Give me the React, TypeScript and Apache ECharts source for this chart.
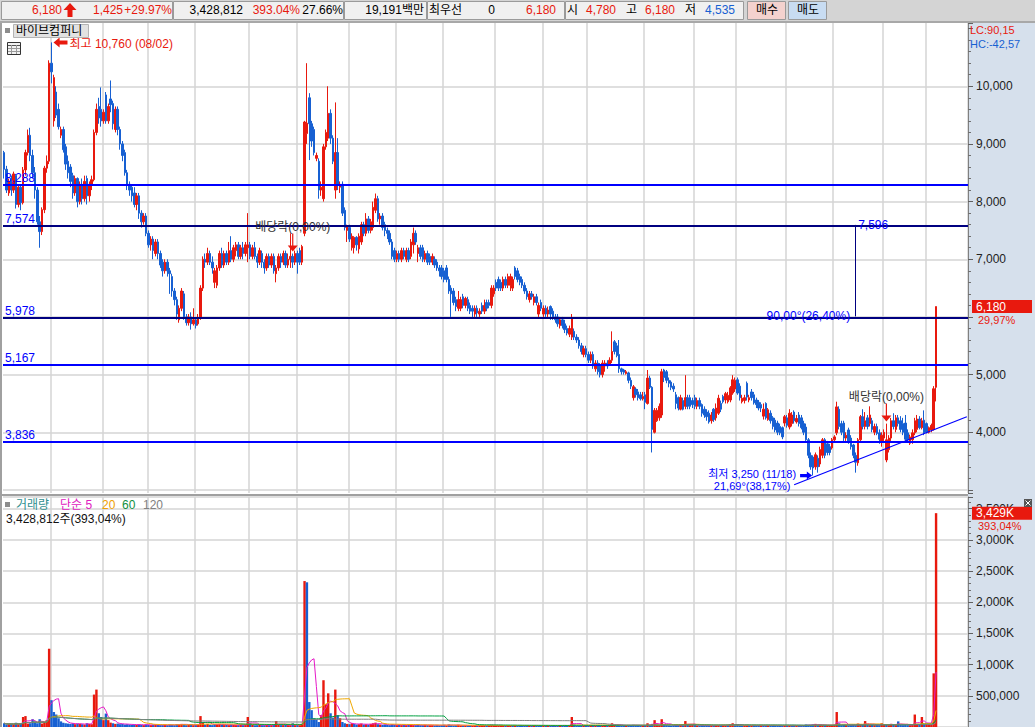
import React, { useEffect, useRef } from 'react';
import * as echarts from 'echarts';

const RED = '#e8190e';
const BLUE = '#1760d2';
const LINE_BLUE = '#0000ff';
const NAVY = '#000080';
const GRID_GRAY = '#d4d4d4';
const FONT = '"Liberation Sans", "Noto Sans CJK KR", sans-serif';

// daily candles: [open, close, low, high]
const candles: number[][] = [
  /*0*/ [8850, 8560, 8400, 8880], [8560, 8200, 8150, 8620], [8150, 8350, 8100, 8400], [8380, 8200, 8100, 8450], [8200, 8480, 8150, 8520],
  /*5*/ [8450, 7950, 7880, 8480], [7950, 8250, 7900, 8300], [8250, 7980, 7850, 8300], [7980, 8550, 7950, 8600], [8550, 8850, 8450, 8900],
  /*10*/ [8850, 9150, 8800, 9250], [9150, 8800, 8700, 9280], [8800, 8500, 8400, 8900], [8500, 8200, 8050, 8600], [8200, 7650, 7600, 8250],
  /*15*/ [7650, 7480, 7200, 7750], [7480, 7860, 7420, 7900], [7860, 8580, 7800, 8620], [8580, 8700, 8500, 8800], [8700, 10400, 8650, 10450],
  /*20*/ [10400, 10250, 10050, 10760], [9400, 10150, 9300, 10200], [9900, 9500, 9450, 10000], [9600, 9300, 9250, 9700], [9150, 9250, 9100, 9300],
  /*25*/ [9250, 8900, 8850, 9300], [8950, 8650, 8550, 9000], [8700, 8500, 8400, 8800], [8600, 8350, 8250, 8650], [8450, 8150, 8050, 8500],
  /*30*/ [8150, 8400, 8100, 8450], [8400, 8000, 7900, 8420], [8000, 8300, 7950, 8350], [8300, 8050, 7950, 8400], [8050, 8350, 8000, 8450],
  /*35*/ [8400, 8100, 7950, 8450], [8100, 8300, 8000, 8350], [8280, 8380, 8200, 8450], [8380, 9200, 8350, 9250], [9200, 9600, 9150, 9700],
  /*40*/ [9650, 9450, 9350, 9800], [9600, 9400, 9300, 9980], [9400, 9550, 9350, 9600], [9850, 9400, 9350, 9900], [9400, 9650, 9350, 9700],
  /*45*/ [9780, 9680, 9550, 10100], [9700, 9350, 9250, 9750], [9250, 9600, 9200, 9650], [9600, 9250, 9150, 9650], [9250, 9000, 8900, 9300],
  /*50*/ [9000, 8800, 8700, 9050], [8850, 8500, 8450, 8900], [8500, 8300, 8200, 8550], [8300, 8200, 8100, 8350], [8250, 8100, 8000, 8300],
  /*55*/ [8150, 7950, 7900, 8250], [7950, 8100, 7850, 8150], [8100, 7800, 7700, 8150], [7800, 7650, 7550, 7850], [7650, 7750, 7600, 7800],
  /*60*/ [7750, 7450, 7400, 7800], [7450, 7250, 7200, 7500], [7250, 7350, 7150, 7400], [7350, 7150, 7000, 7400], [7100, 7300, 7050, 7350],
  /*65*/ [7300, 7100, 7000, 7350], [7100, 6900, 6850, 7150], [6950, 6800, 6700, 7000], [6800, 6950, 6750, 7000], [6950, 6800, 6700, 7000],
  /*70*/ [6800, 6750, 6400, 6850], [6700, 6450, 6350, 6750], [6450, 6300, 6200, 6500], [6300, 6050, 5950, 6350], [5950, 6150, 5900, 6200],
  /*75*/ [6150, 6450, 6100, 6500], [6400, 6000, 5950, 6450], [6000, 5900, 5850, 6050], [5900, 6000, 5850, 6050], [6000, 5880, 5780, 6080],
  /*80*/ [5880, 5950, 5850, 6150], [5950, 5850, 5800, 6000], [5880, 5980, 5850, 6050], [5980, 6500, 5950, 6550], [6500, 7000, 6450, 7050],
  /*85*/ [7000, 6950, 6850, 7100], [6950, 7100, 6900, 7200], [7100, 6950, 6900, 7150], [6950, 6850, 6750, 7050], [6600, 6800, 6500, 6850],
  /*90*/ [6550, 6850, 6500, 6900], [6850, 7100, 6800, 7150], [7100, 6900, 6850, 7200], [6900, 7100, 6850, 7150], [7100, 6950, 6900, 7150],
  /*95*/ [6950, 7150, 6900, 7300], [7150, 7000, 6950, 7400], [7000, 7200, 6950, 7250], [7150, 7250, 7050, 7300], [7250, 7050, 7000, 7300],
  /*100*/ [7050, 7200, 7000, 7250], [7200, 7100, 7000, 7300], [7100, 7250, 7050, 7300], [7200, 7250, 6950, 7800], [7250, 7050, 7000, 7300],
  /*105*/ [7050, 7200, 7000, 7250], [7200, 7050, 7000, 7300], [7050, 6950, 6850, 7100], [6950, 7150, 6900, 7200], [7100, 6950, 6850, 7150],
  /*110*/ [6950, 6850, 6750, 7000], [6850, 7050, 6800, 7100], [7050, 6900, 6850, 7100], [6900, 7050, 6850, 7100], [7050, 6800, 6750, 7100],
  /*115*/ [6750, 6850, 6600, 6900], [6850, 7050, 6800, 7100], [7050, 6950, 6850, 7100], [6950, 7100, 6900, 7150], [7100, 6900, 6850, 7150],
  /*120*/ [6900, 7000, 6850, 7100], [7000, 7050, 6850, 7450], [7050, 6950, 6850, 7100], [6950, 7100, 6900, 7150], [7100, 6950, 6750, 7150],
  /*125*/ [7150, 6950, 6900, 7200], [6950, 7220, 6900, 7250], [7450, 9380, 7400, 9400], [9180, 9360, 9000, 10400], [9800, 9350, 8720, 9880],
  /*130*/ [9350, 9050, 8950, 9400], [9250, 8850, 8800, 9300], [8750, 8800, 8700, 8850], [8700, 8200, 8050, 8750], [8200, 8250, 8100, 8350],
  /*135*/ [8050, 8950, 8000, 9000], [8950, 9200, 8900, 9250], [9100, 9530, 9050, 10000], [9530, 9100, 9000, 9600], [9100, 8700, 8650, 9150],
  /*140*/ [8200, 8850, 8050, 9720], [8850, 8300, 8200, 9100], [8250, 8300, 8150, 8350], [8300, 7800, 7750, 8350], [7850, 7550, 7500, 7900],
  /*145*/ [7500, 7560, 7300, 7600], [7550, 7350, 7300, 7600], [7200, 7400, 7150, 7450], [7200, 7380, 7100, 7400], [7380, 7250, 7150, 7400],
  /*150*/ [7180, 7400, 7100, 7450], [7300, 7600, 7250, 7650], [7600, 7450, 7400, 7650], [7450, 7700, 7400, 7800], [7700, 7500, 7450, 7750],
  /*155*/ [7500, 7650, 7450, 7700], [7550, 7900, 7500, 8000], [7850, 8050, 7800, 8140], [8050, 7700, 7650, 8100], [7700, 7750, 7600, 7800],
  /*160*/ [7750, 7550, 7500, 7800], [7600, 7500, 7400, 7650], [7500, 7450, 7350, 7550], [7450, 7300, 7250, 7500], [7300, 7050, 7000, 7350],
  /*165*/ [7150, 7000, 6950, 7200], [7000, 7100, 6950, 7150], [7100, 7000, 6950, 7150], [7000, 7150, 6950, 7200], [7150, 7050, 7000, 7200],
  /*170*/ [7000, 7150, 6950, 7200], [7150, 7000, 6950, 7200], [7050, 7300, 7000, 7350], [7250, 7450, 7100, 7550], [7450, 7300, 7250, 7500],
  /*175*/ [7100, 7200, 6950, 7250], [7200, 7050, 7000, 7250], [7200, 7000, 6950, 7250], [7000, 7100, 6950, 7150], [7100, 6950, 6900, 7150],
  /*180*/ [7050, 6950, 6900, 7100], [6950, 7050, 6900, 7100], [7000, 6900, 6850, 7050], [6950, 6850, 6800, 7000], [6850, 6800, 6700, 6900],
  /*185*/ [6850, 6700, 6650, 6900], [6800, 6650, 6600, 6850], [6850, 6650, 6600, 6900], [6650, 6450, 6400, 6700], [6500, 6400, 6000, 6550],
  /*190*/ [6450, 6250, 6200, 6500], [6300, 6180, 6100, 6350], [6150, 6300, 6100, 6450], [6150, 6300, 6100, 6350], [6350, 6200, 6150, 6400],
  /*195*/ [6200, 6320, 6150, 6350], [6300, 6150, 6100, 6350], [6200, 6100, 6050, 6250], [6150, 6100, 6000, 6200], [6050, 6150, 6000, 6200],
  /*200*/ [6150, 6070, 6000, 6200], [6050, 6100, 6000, 6150], [6200, 6100, 6050, 6250], [6100, 6200, 6050, 6300], [6250, 6150, 6100, 6300],
  /*205*/ [6250, 6200, 6150, 6300], [6200, 6500, 6150, 6550], [6400, 6500, 6350, 6550], [6600, 6500, 6450, 6650], [6650, 6500, 6450, 6700],
  /*210*/ [6600, 6500, 6450, 6650], [6500, 6650, 6450, 6700], [6650, 6550, 6500, 6700], [6550, 6700, 6500, 6750], [6550, 6700, 6450, 6750],
  /*215*/ [6500, 6650, 6450, 6700], [6850, 6700, 6650, 6880], [6800, 6650, 6600, 6850], [6700, 6600, 6550, 6750], [6650, 6550, 6500, 6700],
  /*220*/ [6550, 6450, 6400, 6600], [6450, 6350, 6300, 6500], [6300, 6400, 6250, 6450], [6400, 6350, 6300, 6450], [6250, 6350, 6200, 6400],
  /*225*/ [6350, 6250, 6200, 6400], [6050, 6200, 6000, 6250], [6250, 6150, 6100, 6300], [6050, 6150, 6000, 6200], [6150, 6050, 6000, 6200],
  /*230*/ [6050, 6120, 6000, 6180], [6180, 6050, 5950, 6200], [6100, 5980, 5950, 6150], [6000, 5950, 5900, 6050], [6000, 5880, 5830, 6050],
  /*235*/ [5850, 5950, 5800, 6000], [5950, 5850, 5800, 6000], [5880, 5780, 5720, 5950], [5800, 5720, 5680, 5850], [5700, 5800, 5650, 5850],
  /*240*/ [5650, 5980, 5600, 6050], [5750, 5650, 5600, 5800], [5650, 5600, 5550, 5700], [5600, 5500, 5450, 5650], [5500, 5400, 5350, 5550],
  /*245*/ [5350, 5450, 5300, 5500], [5450, 5350, 5300, 5500], [5350, 5250, 5200, 5400], [5250, 5350, 5200, 5400], [5350, 5150, 5100, 5400],
  /*250*/ [5100, 5200, 5050, 5250], [5200, 5050, 5000, 5250], [5150, 5000, 4950, 5200], [5000, 5200, 4950, 5250], [5150, 5200, 5050, 5250],
  /*255*/ [5200, 5150, 5100, 5250], [5180, 5250, 5150, 5300], [5250, 5400, 5200, 5750], [5570, 5400, 5350, 5600], [5500, 5330, 5300, 5550],
  /*260*/ [5350, 5100, 5030, 5600], [5100, 5050, 5000, 5120], [5080, 5040, 5000, 5100], [5020, 5050, 5000, 5080], [5030, 4900, 4850, 5050],
  /*265*/ [4900, 4800, 4750, 4950], [4600, 4790, 4550, 4820], [4750, 4650, 4600, 4780], [4700, 4600, 4550, 4750], [4650, 4580, 4550, 4700],
  /*270*/ [4580, 4620, 4550, 4700], [4650, 4520, 4400, 4700], [4500, 4940, 4480, 5080], [4940, 4780, 4750, 4980], [4780, 4050, 3650, 4800],
  /*275*/ [4000, 4380, 3980, 4420], [4200, 4380, 4180, 4420], [4250, 4450, 4200, 4500], [4300, 5050, 4250, 5100], [5080, 4950, 4870, 5100],
  /*280*/ [5050, 4900, 4850, 5080], [4900, 4850, 4780, 4950], [4870, 4780, 4730, 4900], [4800, 4750, 4700, 4850], [4650, 4500, 4400, 4700],
  /*285*/ [4600, 4420, 4380, 4620], [4400, 4600, 4380, 4650], [4550, 4400, 4380, 4600], [4450, 4600, 4400, 4990], [4600, 4450, 4400, 4650],
  /*290*/ [4600, 4450, 4400, 4650], [4550, 4480, 4420, 4600], [4600, 4450, 4400, 4650], [4450, 4550, 4400, 4600], [4550, 4450, 4400, 4600],
  /*295*/ [4480, 4330, 4270, 4500], [4400, 4300, 4250, 4450], [4350, 4270, 4200, 4400], [4330, 4180, 4150, 4380], [4200, 4300, 4150, 4350],
  /*300*/ [4400, 4220, 4180, 4420], [4250, 4420, 4200, 4500], [4330, 4590, 4300, 4650], [4500, 4400, 4350, 4550], [4620, 4530, 4500, 4650],
  /*305*/ [4560, 4670, 4500, 4700], [4530, 4640, 4500, 4700], [4560, 4770, 4520, 4800], [4680, 4910, 4650, 4990], [4750, 4900, 4700, 4950],
  /*310*/ [4910, 4680, 4650, 4950], [4800, 4600, 4550, 4850], [4530, 4590, 4500, 4650], [4550, 4600, 4500, 4650], [4850, 4610, 4550, 4880],
  /*315*/ [4560, 4600, 4520, 4650], [4700, 4600, 4550, 4750], [4650, 4510, 4480, 4700], [4560, 4480, 4420, 4600], [4520, 4420, 4380, 4560],
  /*320*/ [4480, 4420, 4350, 4520], [4280, 4400, 4220, 4500], [4500, 4250, 4220, 4520], [4220, 4390, 4200, 4420], [4330, 4200, 4150, 4380],
  /*325*/ [4250, 4100, 4050, 4280], [4210, 4040, 4000, 4250], [4160, 4000, 3950, 4200], [4100, 3990, 3950, 4150], [4080, 3920, 3880, 4100],
  /*330*/ [4160, 4270, 4100, 4300], [4250, 4120, 4080, 4300], [4090, 4330, 4050, 4400], [4150, 4300, 4100, 4350], [4350, 4200, 4150, 4380],
  /*335*/ [4180, 4240, 4150, 4300], [4300, 4150, 4100, 4350], [4250, 4080, 4050, 4300], [4150, 4000, 3950, 4200], [4090, 3870, 3850, 4150],
  /*340*/ [3870, 3600, 3550, 3900], [3600, 3400, 3350, 3650], [3570, 3380, 3250, 3600], [3400, 3610, 3350, 3650], [3550, 3400, 3300, 3600],
  /*345*/ [3450, 3700, 3400, 3750], [3600, 3870, 3550, 3900], [3870, 3600, 3550, 3900], [3800, 3650, 3600, 3850], [3750, 3650, 3600, 3800],
  /*350*/ [3730, 3870, 3700, 3900], [3870, 3920, 3850, 3950], [3990, 4440, 3950, 4530], [4400, 4100, 4050, 4450], [4150, 4000, 3950, 4200],
  /*355*/ [4160, 3900, 3850, 4200], [3900, 3950, 3850, 4000], [4040, 3850, 3800, 4080], [3900, 3750, 3700, 3950], [3780, 3600, 3550, 3800],
  /*360*/ [3600, 3480, 3300, 3650], [3470, 3870, 3420, 3900], [3870, 4270, 3850, 4300], [4270, 4100, 4050, 4400], [4100, 4200, 4050, 4350],
  /*365*/ [4250, 4100, 4050, 4300], [4150, 4300, 4100, 4450], [4200, 4050, 4000, 4250], [4000, 4100, 3950, 4150], [4100, 3980, 3950, 4150],
  /*370*/ [3990, 3880, 3800, 4050], [3850, 3950, 3750, 4000], [3900, 4000, 3850, 4050], [3520, 3870, 3480, 4150], [3700, 3900, 3650, 3950],
  /*375*/ [3900, 4200, 3850, 4250], [4200, 4100, 4050, 4330], [4050, 4250, 4000, 4300], [4250, 4150, 4100, 4300], [4200, 4050, 4000, 4280],
  /*380*/ [4150, 4000, 3950, 4250], [4160, 3880, 3850, 4300], [3990, 3870, 3850, 4050], [3810, 3920, 3780, 3960], [3870, 3990, 3800, 4050],
  /*385*/ [3990, 4200, 3950, 4250], [4050, 4230, 4000, 4300], [4230, 4080, 4050, 4280], [4080, 4200, 4050, 4250], [4210, 3990, 3950, 4380],
  /*390*/ [4150, 4000, 3980, 4170], [4000, 4080, 3980, 4100], [4040, 4120, 4000, 4150], [4050, 4755, 4030, 4800], [4780, 6180, 4535, 6180],
];

// daily volume in thousands of shares
const volumesK: number[] = [
  /*0*/ 60, 40, 45, 50, 40, 70, 45, 50, 160, 175, 55, 60, 125, 90, 60, 125, 55, 80, 110, 1255,
  /*20*/ 430, 240, 200, 140, 90, 70, 60, 55, 50, 60, 45, 55, 50, 45, 40, 60, 50, 45, 520, 600,
  /*40*/ 220, 160, 110, 215, 110, 70, 60, 50, 55, 45, 50, 40, 45, 40, 35, 40, 35, 40, 35, 30,
  /*60*/ 40, 35, 30, 35, 40, 35, 30, 30, 35, 30, 40, 35, 30, 45, 40, 50, 45, 30, 35, 40, 30, 35, 40,
  /*83*/ 175, 80, 40, 50, 35, 30, 45, 40, 50, 35, 30, 35, 30, 40, 35, 30, 30, 35, 30, 40,
  /*103*/ 160, 60, 35, 30, 30, 35, 30, 30, 35, 30, 30, 35, 95, 40, 30, 30, 35, 30, 30, 60,
  /*123*/ 30, 35, 30, 50,
  /*127*/ 2340, 2320, 400, 270, 140, 120, 80, 190, 750, 365, 540, 220, 150, 600, 190, 140, 80, 60, 50,
  /*146*/ 45, 60, 50, 40, 45, 55, 40, 45, 40, 50, 60, 70, 45, 40, 35, 40, 35, 30, 45, 35,
  /*166*/ 30, 35, 30, 35, 30, 40, 35, 30, 30, 35, 30, 30, 35, 30, 30,
  /*181*/ 30, 25, 30, 25, 30, 35, 25, 40, 30, 25, 30, 35, 25, 20, 25, 20, 25, 20, 25, 20,
  /*201*/ 25, 30, 25, 20, 25, 35, 30, 25, 20, 25, 20, 25, 20, 25, 30, 25, 20, 25, 20, 25,
  /*221*/ 20, 25, 20, 25, 30, 20, 25, 20, 25, 20, 25, 20, 25, 20, 25, 30, 25, 20, 25, 160,
  /*241*/ 40, 25, 20, 25, 20, 25, 20, 25, 20, 25,
  /*251*/ 25, 20, 25, 20, 25, 30, 60, 35, 25, 30, 25, 20, 25, 30, 25, 35, 25, 20, 25, 20,
  /*271*/ 30, 60, 25, 50, 110, 35, 30, 125, 40, 30, 25, 20, 25, 30, 25, 35, 25, 95, 40, 30,
  /*291*/ 40, 35, 25, 20, 25, 20, 25, 20, 25, 20,
  /*301*/ 25, 30, 25, 30, 25, 30, 40, 60, 30, 40, 25, 20, 25, 30, 25, 20, 25, 20, 25, 20,
  /*321*/ 25, 20, 30, 25, 20, 25, 20, 25, 20, 25, 20, 25, 20, 25, 20, 25, 20, 25, 40, 35,
  /*341*/ 35, 40, 50, 30, 35, 30, 25, 30, 25, 30,
  /*351*/ 35, 240, 60, 30, 35, 30, 25, 30, 35, 30, 55, 40, 35, 95, 40, 30, 35, 30, 35, 30,
  /*371*/ 60, 35, 40, 30, 50, 45, 30, 90, 35, 30, 35, 30, 30, 35, 200, 45, 40, 160, 40, 40,
  /*391*/ 35, 40, 860, 3428.812,
];

const slotCount = 408;
const monthStartIdx = [20, 42, 61, 81, 104, 124, 146, 166, 186, 208, 228, 247, 271, 292, 310, 331, 351, 372, 390];
const priceGridValues = [3000, 4000, 5000, 6000, 7000, 8000, 9000, 10000];
const brightLevels = [8288, 5167, 3836];
const darkLevels = [7574, 5978];
const dividendIdx = [122, 373];
const highMark = [20, 10760];
const lowMark = [342, 3250];
const trendLine = [[334, 3090], [407, 4270]];
const rangeMark = { idx: 360, from: 6009, to: 7596 };
const maPeriods = [5, 20, 60, 120];
const maColors = ['#e619c8', '#f0a800', '#00a040', '#808080'];
const priceMin = 2947;
const priceMax = 11097;
const volMax = 3688000;

const fmt = (v: number) => Math.round(v).toLocaleString('en-US');

const volumes = volumesK.map((v) => Math.round(v * 1000));
const lastClose = candles[candles.length - 1][1];
const lastVolume = volumes[volumes.length - 1];

function movingAverage(arr: number[], n: number) {
  return arr.map((_, i) => {
    const s = Math.max(0, i - n + 1);
    let sum = 0;
    for (let j = s; j <= i; j++) sum += arr[j];
    return Math.round(sum / (i - s + 1));
  });
}

function levelSeries(name: string, values: number[], color: string, width: number) {
  return {
    type: 'line',
    name,
    xAxisIndex: 0,
    yAxisIndex: 0,
    data: [],
    silent: true,
    z: 5,
    markLine: {
      z: 5,
      silent: true,
      symbol: 'none',
      lineStyle: { color, width, type: 'solid', opacity: 1 },
      label: {
        show: true,
        position: 'insideStartTop',
        distance: [2, 1],
        color: LINE_BLUE,
        fontSize: 12,
        formatter: (p: any) => fmt(p.value),
      },
      data: values.map((v) => ({ yAxis: v })),
    },
  };
}

function buildOption(): any {
  const cats = Array.from({ length: slotCount }, (_, i) => String(i));
  const volData = volumes.map((v, i) => {
    const up = i === 0 ? candles[0][1] >= candles[0][0] : candles[i][1] >= candles[i - 1][1];
    return { value: v, itemStyle: { color: up ? RED : BLUE } };
  });
  const xAxisBase = {
    type: 'category',
    data: cats,
    boundaryGap: true,
    axisLine: { show: false },
    axisTick: { show: false },
    axisLabel: { show: false },
    splitLine: {
      show: true,
      interval: (index: number) => monthStartIdx.includes(index),
      lineStyle: { color: GRID_GRAY, width: 1.5 },
    },
  };
  const markLineData: any[] = [
    [
      {
        coord: trendLine[0],
        label: { show: true, position: 'start', distance: 4, formatter: '21,69°(38,17%)', color: LINE_BLUE, fontSize: 11 },
      },
      { coord: trendLine[1] },
    ],
  ];
  const invisible = { color: 'rgba(0,0,0,0)' };
  const markPointData: any[] = [
    {
      coord: highMark,
      symbol: 'path://M0,5L7,0L7,3L16,3L16,7L7,7L7,10Z',
      symbolSize: [14, 10],
      symbolOffset: [9, 0],
      itemStyle: { color: RED },
      label: { show: true, position: 'right', distance: 2, offset: [0, 1.5], formatter: '최고 10,760 (08/02)', color: RED, fontSize: 12 },
    },
    {
      coord: lowMark,
      symbol: 'path://M16,5L9,0L9,3L0,3L0,7L9,7L9,10Z',
      symbolSize: [12, 8],
      symbolOffset: [-7, 0],
      itemStyle: { color: LINE_BLUE },
      label: { show: true, position: 'left', distance: 4, offset: [0, -2], formatter: '최저 3,250 (11/18)', color: LINE_BLUE, fontSize: 11 },
    },
    ...dividendIdx.map((idx) => ({
      coord: [idx, candles[idx][3]],
      symbol: 'path://M4.4,0L5.6,0L5.6,12L10,12L5,18L0,12L4.4,12Z',
      symbolSize: [10, 18],
      symbolOffset: [0, -11],
      itemStyle: { color: RED },
      label: { show: true, position: 'top', distance: 1, formatter: '배당락(0,00%)', color: '#333333', fontSize: 12 },
    })),
    {
      coord: [rangeMark.idx, rangeMark.to],
      symbol: 'circle',
      symbolSize: 1,
      itemStyle: invisible,
      label: { show: true, position: 'right', distance: 2, formatter: fmt(rangeMark.to), color: LINE_BLUE, fontSize: 12 },
    },
    {
      coord: [rangeMark.idx, rangeMark.from],
      symbol: 'circle',
      symbolSize: 1,
      itemStyle: invisible,
      label: { show: true, position: 'left', distance: 5, formatter: '90,00°(26,40%)', color: LINE_BLUE, fontSize: 12 },
    },
  ];

  const maSeries = maPeriods.map((p, k) => ({
    type: 'line',
    name: 'MA' + p,
    xAxisIndex: 1,
    yAxisIndex: 1,
    data: movingAverage(volumes, p),
    symbol: 'none',
    showSymbol: false,
    lineStyle: { color: maColors[k], width: 1 },
    silent: true,
    z: 4,
  }));

  return {
    animation: false,
    textStyle: { fontFamily: FONT, fontSize: 12 },
    grid: [
      { left: 3, top: 23, width: 965, height: 470 },
      { left: 3, top: 497, width: 965, height: 232 },
    ],
    xAxis: [
      { ...xAxisBase, gridIndex: 0 },
      { ...xAxisBase, gridIndex: 1 },
    ],
    yAxis: [
      {
        type: 'value',
        gridIndex: 0,
        position: 'right',
        min: priceMin,
        max: priceMax,
        minInterval: 1000,
        maxInterval: 1000,
        axisLine: { show: true, lineStyle: { color: '#808080', width: 1 } },
        axisTick: { show: true, length: 5, lineStyle: { color: '#606060' } },
        minorTick: { show: true, splitNumber: 5, length: 3, lineStyle: { color: '#707070' } },
        axisLabel: {
          margin: 8,
          color: '#222222',
          fontSize: 12,
          // labels hidden behind the current-price box are not drawn
          formatter: (v: number) =>
            v >= 4000 && v <= 10000 && v % 1000 === 0 && Math.abs(v - lastClose) > 300 ? fmt(v) : '',
        },
        splitLine: { show: false },
      },
      {
        type: 'value',
        gridIndex: 1,
        position: 'right',
        min: 0,
        max: volMax,
        minInterval: 500000,
        maxInterval: 500000,
        axisLine: { show: true, lineStyle: { color: '#808080', width: 1 } },
        axisTick: { show: true, length: 5, lineStyle: { color: '#606060' } },
        minorTick: { show: true, splitNumber: 5, length: 3, lineStyle: { color: '#707070' } },
        axisLabel: {
          margin: 8,
          color: '#222222',
          fontSize: 12,
          formatter: (v: number) =>
            v > 0 && v % 500000 === 0 ? (v >= 1000000 ? fmt(v / 1000) + 'K' : fmt(v)) : '',
        },
        splitLine: { show: true, lineStyle: { color: GRID_GRAY, width: 1.5 } },
      },
    ],
    series: [
      {
        type: 'line',
        name: 'priceGrid',
        xAxisIndex: 0,
        yAxisIndex: 0,
        data: [],
        silent: true,
        z: 1,
        markLine: {
          z: 1,
          silent: true,
          symbol: 'none',
          label: { show: false },
          lineStyle: { color: GRID_GRAY, width: 1.5, type: 'solid' },
          data: priceGridValues.map((v) => ({ yAxis: v })),
        },
      },
      {
        type: 'candlestick',
        name: 'price',
        xAxisIndex: 0,
        yAxisIndex: 0,
        data: candles,
        barWidth: 2,
        z: 3,
        itemStyle: { color: RED, color0: BLUE, borderColor: RED, borderColor0: BLUE, borderWidth: 1 },
        markLine: {
          silent: true,
          symbol: 'none',
          z: 5,
          lineStyle: { color: LINE_BLUE, width: 1.2, type: 'solid' },
          data: markLineData,
        },
        markPoint: { silent: true, z: 6, data: markPointData },
      },
      levelSeries('levelsBright', brightLevels, LINE_BLUE, 2),
      levelSeries('levelsDark', darkLevels, NAVY, 2),
      {
        type: 'line',
        name: 'rangeLine',
        xAxisIndex: 0,
        yAxisIndex: 0,
        data: [],
        silent: true,
        z: 5,
        markLine: {
          z: 5,
          silent: true,
          symbol: 'none',
          label: { show: false },
          lineStyle: { color: NAVY, width: 1, type: 'solid' },
          data: [[{ coord: [rangeMark.idx, rangeMark.from] }, { coord: [rangeMark.idx, rangeMark.to] }]],
        },
      },
      {
        type: 'bar',
        name: 'volume',
        xAxisIndex: 1,
        yAxisIndex: 1,
        data: volData,
        barWidth: 2.4,
        z: 3,
      },
      ...maSeries,
    ],
  };
}

function txt(text: string, x: number, y: number, fill: string, align = 'left', size = 12) {
  return {
    type: 'text',
    z: 20,
    silent: true,
    style: {
      text,
      x,
      y,
      fill,
      font: `${size}px ${FONT}`,
      align,
      textAlign: align,
      verticalAlign: 'middle',
      textVerticalAlign: 'middle',
    },
  };
}

function rect(x: number, y: number, w: number, h: number, fill: string, stroke?: string, z = 15) {
  return {
    type: 'rect',
    z,
    silent: true,
    shape: { x, y, width: w, height: h },
    style: { fill, stroke: stroke || null, lineWidth: stroke ? 1 : 0 },
  };
}

function line(x1: number, y1: number, x2: number, y2: number, stroke: string, w = 1, z = 16) {
  return { type: 'line', z, silent: true, shape: { x1, y1, x2, y2 }, style: { stroke, lineWidth: w } };
}

function buildGraphics(yP: number, yV: number): any[] {
  const els: any[] = [];
  // right axis panel
  els.push(rect(968, 23, 67, 704, '#d6e0ec', undefined, -10));
  // toolbar
  els.push(rect(0, 0, 1035, 21, '#d4d4d4'));
  els.push(rect(1.5, 1.5, 171, 18, '#f0f0f0', '#9a9a9a'));
  els.push(rect(173.5, 1.5, 170, 18, '#f0f0f0', '#9a9a9a'));
  els.push(rect(344.5, 1.5, 82, 18, '#f0f0f0', '#9a9a9a'));
  els.push(rect(427.5, 1.5, 137, 18, '#f0f0f0', '#9a9a9a'));
  els.push(rect(565.5, 1.5, 178, 18, '#f0f0f0', '#9a9a9a'));
  els.push(rect(747.5, 1.5, 38, 18, '#f4d2ce', '#9a9a9a'));
  els.push(rect(788.5, 1.5, 38, 18, '#c8dcf2', '#9a9a9a'));
  els.push(rect(0, 21, 1035, 2, '#a8a8a8'));
  els.push(txt('6,180', 62, 10, RED, 'right'));
  els.push({
    type: 'polygon',
    z: 20,
    silent: true,
    shape: { points: [[70, 3], [76.5, 10], [72.5, 10], [72.5, 17], [67.5, 17], [67.5, 10], [63.5, 10]] },
    style: { fill: RED },
  });
  els.push(txt('1,425', 123, 10, RED, 'right'));
  els.push(txt('+29.97%', 172, 10, RED, 'right'));
  els.push(txt('3,428,812', 243, 10, '#000000', 'right'));
  els.push(txt('393.04%', 300, 10, RED, 'right'));
  els.push(txt('27.66%', 343, 10, '#000000', 'right'));
  els.push(txt('19,191백만', 424, 10, '#000000', 'right'));
  els.push(txt('최우선', 429, 10, '#000000', 'left'));
  els.push(txt('0', 495, 10, '#000000', 'right'));
  els.push(txt('6,180', 556, 10, RED, 'right'));
  els.push(txt('시', 567, 10, '#000000', 'left'));
  els.push(txt('4,780', 616, 10, RED, 'right'));
  els.push(txt('고', 626, 10, '#000000', 'left'));
  els.push(txt('6,180', 675, 10, RED, 'right'));
  els.push(txt('저', 685, 10, '#000000', 'left'));
  els.push(txt('4,535', 735, 10, BLUE, 'right'));
  els.push(txt('매수', 767, 10, '#000000', 'center'));
  els.push(txt('매도', 808, 10, '#000000', 'center'));
  // chart frame
  els.push(rect(0, 23, 2, 704, '#a0a0a0'));
  els.push(rect(0, 494, 968, 2, '#a0a0a0'));
  // title
  els.push(rect(5, 28, 5, 5, '#8c8c8c'));
  els.push(rect(13.5, 24.5, 75, 13, '#e2e2e2', '#b4b4b4'));
  els.push(txt('바이브컴퍼니', 16, 31, '#000000', 'left'));
  // small grid icon
  els.push(rect(7.5, 42.5, 13, 12, '#f2f2f2', '#333333'));
  els.push(line(8, 45.5, 20, 45.5, '#555555'));
  els.push(line(8, 48.5, 20, 48.5, '#999999'));
  els.push(line(8, 51.5, 20, 51.5, '#999999'));
  els.push(line(11.5, 45, 11.5, 54, '#999999'));
  els.push(line(16.5, 45, 16.5, 54, '#999999'));
  // LC / HC
  els.push(txt('LC:90,15', 970, 30, RED, 'left', 11));
  els.push(txt('HC:-42,57', 970, 43.5, BLUE, 'left', 11));
  // current price box
  els.push(rect(972, yP - 6.5, 60, 13, RED));
  els.push(txt(fmt(lastClose), 976, yP, '#ffffff', 'left'));
  els.push(txt('29,97%', 978, yP + 13, RED, 'left', 11));
  // volume legend
  els.push(rect(5, 502, 5, 5, '#8c8c8c'));
  els.push(txt('거래량', 16, 504.5, '#2f8f8f', 'left'));
  els.push(txt('단순 5', 60, 504.5, '#e020c0', 'left'));
  els.push(txt('20', 102, 504.5, '#f0a000', 'left'));
  els.push(txt('60', 122, 504.5, '#109040', 'left'));
  els.push(txt('120', 143, 504.5, '#808080', 'left'));
  els.push(txt('3,428,812주(393,04%)', 6, 519, '#111111', 'left'));
  // current volume box
  els.push(rect(972, yV - 6.5, 60, 13, RED));
  els.push(txt('3,429K', 976, yV, '#ffffff', 'left'));
  els.push(txt('393,04%', 978, yV + 13, RED, 'left', 11));
  // close icon
  els.push(rect(1024, 499, 8, 8, '#555555'));
  els.push(line(1025.5, 500.5, 1030.5, 505.5, '#ffffff', 1, 21));
  els.push(line(1030.5, 500.5, 1025.5, 505.5, '#ffffff', 1, 21));
  return els;
}

export default function App() {
  const ref = useRef<HTMLDivElement>(null);
  useEffect(() => {
    if (!ref.current) return;
    const chart = echarts.init(ref.current, undefined, { renderer: 'svg' });
    chart.setOption(buildOption());
    const yP = chart.convertToPixel({ yAxisIndex: 0 } as any, lastClose) as unknown as number;
    const yV = chart.convertToPixel({ yAxisIndex: 1 } as any, lastVolume) as unknown as number;
    chart.setOption({ graphic: { elements: buildGraphics(yP, yV) } });
    return () => chart.dispose();
  }, []);
  return (
    <div
      ref={ref}
      style={{ position: 'absolute', left: 0, top: 0, width: 1035, height: 727, background: '#ffffff' }}
    />
  );
}
